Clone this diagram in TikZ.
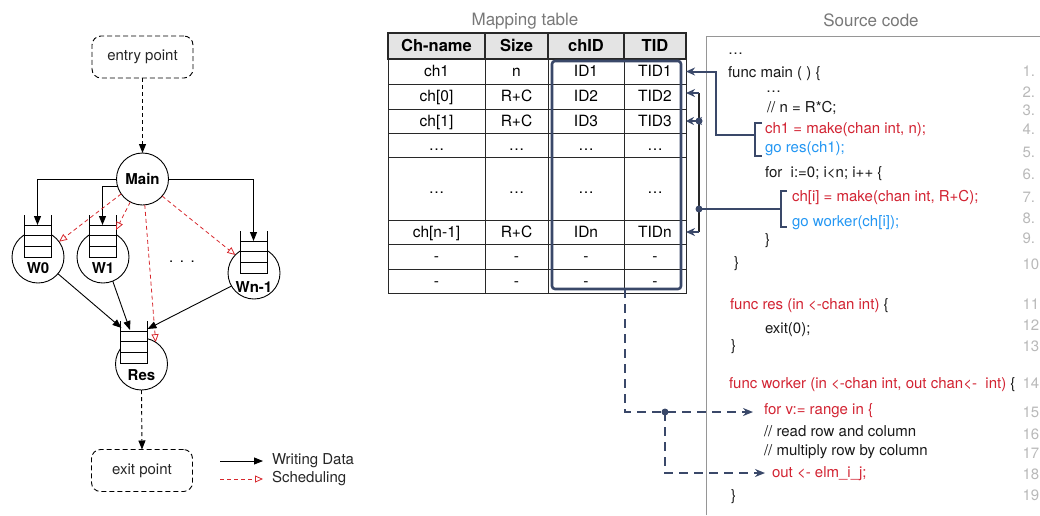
\documentclass[tikz,border=0pt]{standalone}
\usepackage{fontspec}
\setmainfont{TeX Gyre Heros}
\usetikzlibrary{arrows.meta,calc}
\definecolor{navy}{RGB}{58,72,105}
\definecolor{codered}{RGB}{210,35,50}
\definecolor{codeblue}{RGB}{34,150,243}
\definecolor{titlegray}{RGB}{120,120,120}
\definecolor{numgray}{RGB}{185,185,185}
\definecolor{boxgray}{RGB}{150,150,150}
\definecolor{hdrfill}{RGB}{228,228,228}
\definecolor{schedred}{RGB}{215,40,45}
\definecolor{tline}{RGB}{40,40,40}
\newcommand\fcode{\fontsize{15}{18}\selectfont}
\newcommand\fcell{\fontsize{15.5}{18}\selectfont}
\newcommand\fhead{\fontsize{16.5}{19}\selectfont\bfseries}
\newcommand\ftitle{\fontsize{17}{20}\selectfont}
\newcommand\fgraph{\fontsize{15}{18}\selectfont}
\newcommand\trow[8]{%
 \node[#8,minimum width=97pt,minimum height=#3pt] (c-#1-1) at (436.5,#2) {#4};
 \node[#8,minimum width=63pt,minimum height=#3pt] (c-#1-2) at (516.5,#2) {#5};
 \node[#8,minimum width=76pt,minimum height=#3pt] (c-#1-3) at (586,#2) {#6};
 \node[#8,minimum width=62pt,minimum height=#3pt] (c-#1-4) at (655,#2) {#7};
}
\begin{document}
\begin{tikzpicture}[x=1pt,y=-1pt,
  every node/.style={inner sep=0pt, outer sep=0pt},
  ptbox/.style={draw, line width=0.9pt, dash pattern=on 5pt off 3pt, rounded corners=9pt, minimum width=101pt, minimum height=42pt, font=\fgraph, text=black!85},
  proc/.style={draw, line width=0.9pt, circle, minimum size=52pt, fill=white},
  plbl/.style={font=\fgraph\bfseries},
  wdata/.style={draw=black, line width=0.9pt, -{Triangle[length=9pt,width=7pt]}},
  sched/.style={draw=schedred, line width=0.8pt, dash pattern=on 4pt off 3pt, -{Triangle[open,length=8pt,width=7pt]}},
  flow/.style={draw=black, line width=0.9pt, dash pattern=on 4pt off 3pt, -{Triangle[length=9pt,width=7pt]}},
  bcell/.style={draw=tline, line width=1pt, font=\fcell, text height=12pt, text depth=2pt},
  hcell/.style={draw=tline, line width=1.8pt, fill=hdrfill, font=\fhead, text height=12pt, text depth=2pt},
  code/.style={anchor=base west, font=\fcode, text=black!90},
  lnum/.style={anchor=base west, font=\fcode, text=numgray},
  navyline/.style={draw=navy, line width=2pt},
  navyarrow/.style={draw=navy, line width=2pt, -{Stealth[length=9pt,width=8pt]}},
  navydbl/.style={draw=navy, line width=2pt, -{Stealth[length=8pt,width=8pt]Stealth[length=8pt,width=8pt]}},
  navydash/.style={draw=navy, line width=2pt, dash pattern=on 9pt off 6pt, -{Stealth[length=10pt,width=8pt]}},
  pics/queue/.style={code={
    \fill[white] (-13.5,-32) rectangle (13.5,0);
    \draw[line width=0.9pt] (-13.5,-42) -- (-13.5,0) -- (13.5,0) -- (13.5,-42);
    \draw[line width=0.9pt] (-13.5,-32) -- (13.5,-32);
    \draw[line width=0.9pt] (-13.5,-21.3) -- (13.5,-21.3);
    \draw[line width=0.9pt] (-13.5,-10.7) -- (13.5,-10.7);
    \coordinate (-top) at (0,-32);
    \coordinate (-tl) at (-13.5,-32);
    \coordinate (-tr) at (13.5,-32);
  }}
]
\useasboundingbox (0,0) rectangle (1040,515);

% ---------------- graph ----------------
\node[ptbox] (entry) at (142.5,57) {entry point};
\node[proc, font=\fgraph\bfseries] (main) at (142.5,179) {Main};
\node[proc] (w0) at (38,257) {};
\pic (q0) at (37.5,257) {queue};
\node[plbl] (w0l) at (38,268) {W0};
\node[proc] (w1) at (103,257) {};
\pic (q1) at (102.5,257) {queue};
\node[plbl] (w1l) at (103,268) {W1};
\node[proc] (wn) at (254,273) {};
\pic (qn) at (253.5,273) {queue};
\node[plbl] (wnl) at (254,287) {Wn-1};
\node[proc] (res) at (141.5,364) {};
\pic (qr) at (134,363) {queue};
\node[plbl] (resl) at (141.5,375) {Res};
\node[anchor=base, font=\fgraph] (gdots) at (182,262.5) {.\hspace{6.5pt}.\hspace{6.5pt}.};
\node[ptbox] (exit) at (142,470.5) {exit point};

\draw[flow] (entry.south) -- (main.north);
\draw[wdata] (main.west) -| (q0-top);
\draw[wdata] (main.196) -| (q1-top);
\draw[wdata] (main.east) -| (qn-top);
\draw[sched] (main.215) -- (w0.36);
\draw[sched] (main.242) -- ([yshift=-5pt]q1-tr);
\draw[sched] (main.275) -- (res.57);
\draw[sched] (main.319) -- (wn.136);
\draw[wdata] (w0.320) -- ([shift={(1pt,3pt)}]qr-tl);
\draw[wdata] (w1.292) -- ([shift={(-4pt,1pt)}]qr-top);
\draw[wdata] (wn.210) -- ([yshift=2pt]qr-tr);
\draw[flow] (res.south) -- (exit.north);

% legend
\node[anchor=west, font=\fgraph, text=black!85] (lg1) at (272,461) {Writing Data};
\node[anchor=west, font=\fgraph, text=black!85] (lg2) at (272,479) {Scheduling};
\draw[wdata] ([xshift=-52pt]lg1.west) -- ([xshift=-9pt]lg1.west);
\draw[sched] ([xshift=-52pt]lg2.west) -- ([xshift=-9pt]lg2.west);

% ---------------- table ----------------
\node[anchor=base, font=\ftitle, text=titlegray] (ttab) at (525,25.5) {Mapping table};
\trow{1}{71.5}{25}{ch1}{n}{ID1}{TID1}{bcell}
\trow{2}{96.5}{25}{ch[0]}{R+C}{ID2}{TID2}{bcell}
\trow{3}{121}{24}{ch[1]}{R+C}{ID3}{TID3}{bcell}
\trow{4}{145}{24}{…}{…}{…}{…}{bcell}
\trow{5}{188.5}{63}{…}{…}{…}{…}{bcell}
\trow{6}{232}{24}{ch[n-1]}{R+C}{IDn}{TIDn}{bcell}
\trow{7}{256.5}{25}{-}{-}{-}{-}{bcell}
\trow{8}{281}{24}{-}{-}{-}{-}{bcell}
\trow{0}{46}{26}{Ch-name}{Size}{chID}{TID}{hcell}
\node[draw=navy, line width=2.6pt, rounded corners=3pt, minimum width=129pt, minimum height=228pt] (bb) at (616.5,175) {};

% ---------------- source code ----------------
\node[anchor=base, font=\ftitle, text=titlegray] (tsrc) at (871,26) {Source code};
\draw[boxgray, line width=1pt] (706,515) -- (706,36) -- (1040,36);

\node[code] (l0) at (728,54.5) {…};
\node[code] (l1) at (728,77) {func main ( ) \{};
\node[code] (l2) at (766,92.5) {…};
\node[code] (l3) at (767,112) {// n = R*C;};
\node[code, text=codered] (l4) at (765,133) {ch1 = make(chan int, n);};
\node[code, text=codeblue] (l5) at (765,152) {go res(ch1);};
\node[code] (l6) at (765,177) {for\ \ i:=0; i<n; i++ \{};
\node[code, text=codered] (l7) at (792,201) {ch[i] = make(chan int, R+C);};
\node[code, text=codeblue] (l8) at (792,226) {go worker(ch[i]);};
\node[code] (l9) at (765,244) {\}};
\node[code] (l10) at (734,267) {\}};
\node[code] (l11) at (730,309) {\textcolor{codered}{func res (in <-chan int)} \{};
\node[code] (l12) at (765,333) {exit(0);};
\node[code] (l13) at (731,350) {\}};
\node[code] (l14) at (729,388) {\textcolor{codered}{func worker (in <-chan int, out chan<-\ \ int)} \{};
\node[code, text=codered] (l15) at (764,414) {for v:= range in \{};
\node[code] (l16) at (764,436) {// read row and column};
\node[code] (l17) at (764,455) {// multiply row by column};
\node[code, text=codered] (l18) at (772,477) {out <- elm\_i\_j;};
\node[code] (l19) at (731,500) {\}};

\foreach \t/\yy [count=\i] in {1./76, 2./97, 3./115, 4./134, 5./157, 6./179, 7./202, 8./223, 9./243, 10/269, 11/309, 12/330, 13/351, 14/388, 15/417, 16/439, 17/458, 18/479, 19/500}
  \node[lnum] (ln\i) at (1022.5,\yy) {\t};

% ---------------- connectors ----------------
% bracket for lines 4-5
\coordinate (br1) at (755,135);
\draw[navyline] (762,123) -- (755,123) -- (755,156) -- (762,156);
\draw[navyarrow] (br1) -- ++(-39,0) |- (c-1-4.east);
% bracket for lines 7-8
\coordinate (br2) at (781,209);
\draw[navyline] (787,191) -- (781,191) -- (781,227) -- (787,227);
\coordinate (vtop) at ([shift={(13pt,3.5pt)}]c-2-4.east);
\coordinate (vbot) at ([xshift=13pt]c-6-4.east);
\coordinate (j3) at ([xshift=13pt]c-3-4.east);
\coordinate (j2) at (vtop |- br2);
\draw[black!85, line width=1.6pt] (vtop) -- (vbot);
\draw[navyline] (br2) -- (j2);
\draw[navyarrow] (vtop) -- ([yshift=3.5pt]c-2-4.east);
\draw[navydbl] (j3) -- (c-3-4.east);
\draw[navyarrow] (vbot) -- (c-6-4.east);
\fill[navy] (j2) circle (3.5pt);
\fill[navy] (j3) circle (3.5pt);
% dashed connectors from the box
\coordinate (bbout) at ([xshift=8.5pt]bb.south);
\coordinate (dj) at (665,412);
\draw[navydash] (bbout) |- ([shift={(-11pt,2pt)}]l15.base west);
\draw[navydash] (dj) |- ([shift={(-7pt,4pt)}]l18.base west);
\fill[navy] (dj) circle (3.5pt);
\end{tikzpicture}
\end{document}
